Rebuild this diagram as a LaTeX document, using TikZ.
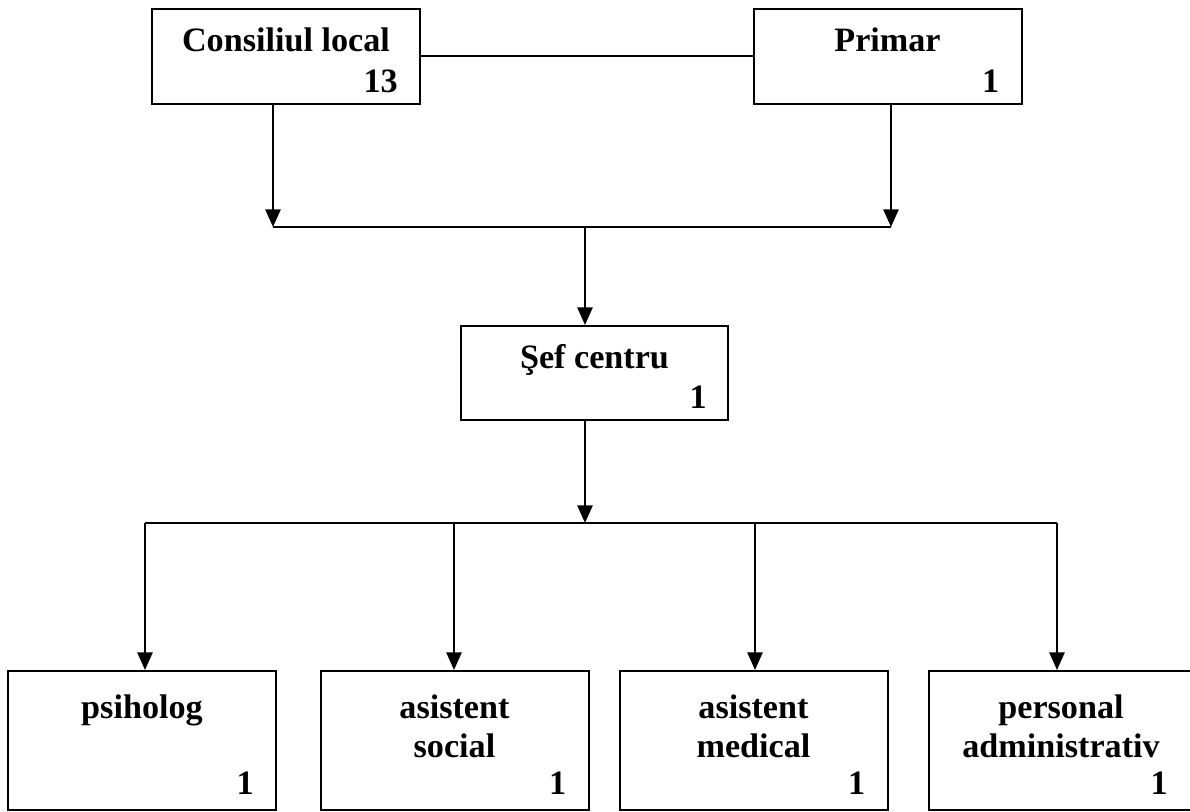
\documentclass[tikz,border=0pt]{standalone}
\usepackage{fontspec}
\setmainfont{Liberation Serif}
\usetikzlibrary{arrows.meta,positioning}

\begin{document}
\begin{tikzpicture}[
    box/.style={draw, line width=0.05cm, minimum width=6.7cm, minimum height=2.375cm, inner sep=0pt},
    lowbox/.style={box, minimum height=3.475cm},
    title/.style={inner sep=0pt, align=center, font=\bfseries\fontsize{24.3}{27.7}\selectfont},
    count/.style={inner sep=0pt, font=\bfseries\fontsize{24.3}{27.7}\selectfont},
    wire/.style={line width=0.05cm},
    arr/.style={wire, -{Triangle[length=0.44cm, width=0.38cm]}}
]
    %%%%% START %%%%%
    \useasboundingbox (0, 0) rectangle (29.75, 20.3);

    \node[box] (consiliu) at (7.15, 18.8875) {};
    \node[title, below=0.48cm of consiliu.north] (consiliu-t) {Consiliul local};
    \node[count, above left=0.3cm and 0.575cm of consiliu.south east] (consiliu-n) {13};

    \node[box] (primar) at (22.1875, 18.8875) {};
    \node[title, below=0.48cm of primar.north] (primar-t) {Primar};
    \node[count, above left=0.3cm and 0.575cm of primar.south east] (primar-n) {1};

    \draw[wire] (consiliu) -- (primar);

    \coordinate (sus-st) at (6.825, 14.625);
    \coordinate (sus-dr) at (22.275, 14.625);
    \coordinate (sus-mj) at (14.625, 14.625);
    \draw[arr] (consiliu.south -| sus-st) -- (sus-st);
    \draw[arr] (primar.south -| sus-dr) -- (sus-dr);
    \draw[wire] (sus-st) -- (sus-dr);

    \node[box, minimum width=6.675cm, minimum height=2.35cm] (sef) at (14.8625, 10.975) {};
    \node[title, below=0.48cm of sef.north] (sef-t) {Şef centru};
    \node[count, above left=0.3cm and 0.55cm of sef.south east] (sef-n) {1};
    \draw[arr] (sus-mj) -- (sef.north -| sus-mj);

    \coordinate (jos-mj) at (14.625, 7.225);
    \coordinate (jos-1) at (3.625, 7.225);
    \coordinate (jos-2) at (11.35, 7.225);
    \coordinate (jos-3) at (18.875, 7.225);
    \coordinate (jos-4) at (26.425, 7.225);
    \draw[arr] (sef.south -| jos-mj) -- (jos-mj);
    \draw[wire] (jos-1) -- (jos-4);

    \node[lowbox] (psiholog) at (3.55, 1.7875) {};
    \node[title, below=0.62cm of psiholog.north] (psiholog-t) {psiholog};
    \node[count, above left=0.4cm and 0.575cm of psiholog.south east] (psiholog-n) {1};

    \node[lowbox] (social) at (11.3625, 1.7875) {};
    \node[title, below=0.62cm of social.north] (social-t) {asistent\\social};
    \node[count, above left=0.4cm and 0.575cm of social.south east] (social-n) {1};

    \node[lowbox] (medical) at (18.8375, 1.7875) {};
    \node[title, below=0.62cm of medical.north] (medical-t) {asistent\\medical};
    \node[count, above left=0.4cm and 0.575cm of medical.south east] (medical-n) {1};

    \node[lowbox] (admin) at (26.575, 1.7875) {};
    \node[title, below=0.62cm of admin.north, xshift=-0.05cm] (admin-t) {personal\\administrativ};
    \node[count, above left=0.4cm and 0.75cm of admin.south east] (admin-n) {1};

    \draw[arr] (jos-1) -- (psiholog.north -| jos-1);
    \draw[arr] (jos-2) -- (social.north -| jos-2);
    \draw[arr] (jos-3) -- (medical.north -| jos-3);
    \draw[arr] (jos-4) -- (admin.north -| jos-4);

    %%%%% END %%%%%
\end{tikzpicture}
\end{document}
